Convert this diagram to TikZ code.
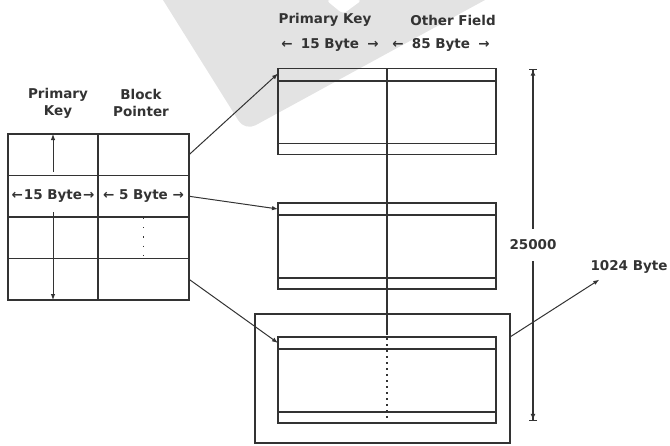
\documentclass[tikz,border=0pt]{standalone}
\usepackage{fontspec}
\setmainfont{DejaVu Sans}
\usetikzlibrary{arrows.meta}
\definecolor{ink}{HTML}{333333}
\definecolor{wmgray}{HTML}{E3E3E3}
\tikzset{
  lbl/.style={font=\bfseries\fontsize{13.5}{17}\selectfont, text=ink, inner sep=1pt, align=center},
  cell/.style={draw=ink, line width=1.2pt, minimum height=41.5pt, inner sep=0pt, outer sep=0pt},
  blk/.style={draw=ink, line width=1.2pt, minimum width=218pt, minimum height=86pt, inner sep=0pt, outer sep=0pt},
  tip/.style={draw=ink, line width=1pt, -{Latex[length=6pt,width=4.5pt]}},
}
\begin{document}
\begin{tikzpicture}[x=1pt,y=-1pt]
  \useasboundingbox (0,0) rectangle (670,445);
  % watermark
  \fill[wmgray] (163,0) [rounded corners=12pt] -- (245,131) [sharp corners] -- (485,0) -- cycle;
  \fill[white, rounded corners=4pt] (326,0) -- (343,14) -- (362,0) -- cycle;

  % index table
  \node[lbl] (hkey) at (58,103) {Primary\\Key};
  \node[lbl] (hptr) at (141,103) {Block\\Pointer};
  \node[cell, minimum width=90pt] (k1) at (53,154.75) {};
  \node[cell, minimum width=91pt] (p1) at (143.5,154.75) {};
  \node[cell, minimum width=90pt, lbl] (k2) at (53,196.25) {←\hspace{1pt}15 Byte\hspace{1pt}→};
  \node[cell, minimum width=91pt, lbl] (p2) at (143.5,196.25) {← 5 Byte →};
  \node[cell, minimum width=90pt] (k3) at (53,237.75) {};
  \node[cell, minimum width=91pt] (p3) at (143.5,237.75) {};
  \node[cell, minimum width=90pt] (k4) at (53,279.25) {};
  \node[cell, minimum width=91pt] (p4) at (143.5,279.25) {};
  \draw[tip] ([yshift=4pt]k2.north) -- (k1.north);
  \draw[tip] ([yshift=5pt]k2.south) -- (k4.south);
  \draw[ink, line width=1.5pt, dash pattern=on 1.2pt off 8pt] ([yshift=-1pt]p3.north) -- ([yshift=2pt]p3.south);

  % data blocks
  \node[lbl] (tkey) at (325,20) {Primary Key};
  \node[lbl] (toth) at (453,20) {Other Field};
  \node[lbl] (tw1) at (330,45) {←\hspace{3.5pt} 15 Byte \hspace{3.5pt}→};
  \node[lbl] (tw2) at (441,45) {←\hspace{3.5pt} 85 Byte \hspace{3.5pt}→};
  \node[draw=ink, line width=1.2pt, minimum width=255pt, minimum height=129pt, inner sep=0pt, outer sep=0pt] (page) at (382.5,378.5) {};
  \node[blk] (b1) at (387,111.5) {};
  \node[blk] (b2) at (387,246) {};
  \node[blk] (b3) at (387,380) {};
  \foreach \b in {b1,b2,b3} {
    \draw[ink, line width=2pt] ([yshift=-12pt]\b.north west) -- ([yshift=-12pt]\b.north east);
    \draw[ink, line width=1.2pt] ([yshift=11pt]\b.south west) -- ([yshift=11pt]\b.south east);
  }
  \draw[ink, line width=1.4pt] (b1.north) -- ([yshift=2pt]b3.north);
  \draw[ink, line width=1.4pt, dash pattern=on 1.5pt off 4.5pt] ([yshift=-1pt]b3.north) -- (b3.south);

  % pointers
  \draw[tip] (p1.east) -- ([yshift=-5pt]b1.north west);
  \draw[tip] (p2.east) -- ([yshift=-6pt]b2.north west);
  \draw[tip] (p4.east) -- ([yshift=-6pt]b3.north west);

  % sizes
  \node[lbl, inner ysep=11pt] (cnt) at (533,245) {25000};
  \draw[ink, line width=1.2pt, -{Latex[length=6pt,width=5pt]Bar[width=8pt]}] (cnt) -- (cnt |- b1.north);
  \draw[ink, line width=1.2pt, -{Latex[length=6pt,width=5pt]Bar[width=8pt]}] (cnt) -- ([yshift=2pt]cnt |- b3.south);
  \node[lbl] (sz) at (629,267) {1024 Byte};
  \draw[tip] (page.east |- b3.north) -- ([xshift=10pt,yshift=-5pt]sz.south west);
\end{tikzpicture}
\end{document}
